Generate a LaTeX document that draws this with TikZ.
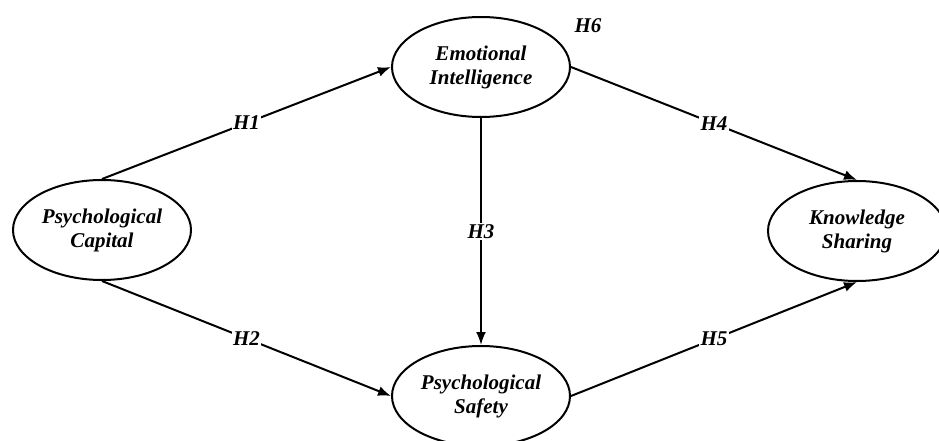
\documentclass[tikz,border=0pt]{standalone}
\usepackage{fontspec}
\setmainfont{Liberation Serif}
\usetikzlibrary{shapes.geometric,arrows.meta}
\tikzset{
  construct/.style={ellipse, draw, line width=2pt, minimum width=178pt, minimum height=100pt,
    inner sep=0pt, align=center, font=\fontsize{21}{24}\selectfont\bfseries\itshape},
  link/.style={-{Latex[length=13pt,width=10pt]}, line width=2pt},
  hyp/.style={fill=white, inner sep=1.5pt, font=\fontsize{21}{24}\selectfont\bfseries\itshape}
}
\begin{document}
\begin{tikzpicture}[x=1pt, y=1pt]
            \useasboundingbox (0, 0) rectangle (939, 440);
            \node[construct] (pcap) at (102, 210) {Psychological\\Capital};
            \node[construct] (emint) at (481, 373) {Emotional\\Intelligence};
            \node[construct] (psafe) at (481, 44) {Psychological\\Safety};
            \node[construct] (kshare) at (857, 209) {Knowledge\\Sharing};
            \draw[link] (pcap.north) -- (emint.west) node[midway, hyp] {H1};
            \draw[link] (pcap.south) -- (psafe.west) node[midway, hyp] {H2};
            \draw[link] (emint.south) -- (psafe.north) node[midway, hyp] {H3};
            \draw[link] (emint.east) -- (kshare.north) node[midway, hyp] {H4};
            \draw[link] (psafe.east) -- (kshare.south) node[midway, hyp] {H5};
            \node[hyp, fill=none] (h6) at (588, 414) {H6};
        \end{tikzpicture}
\end{document}
